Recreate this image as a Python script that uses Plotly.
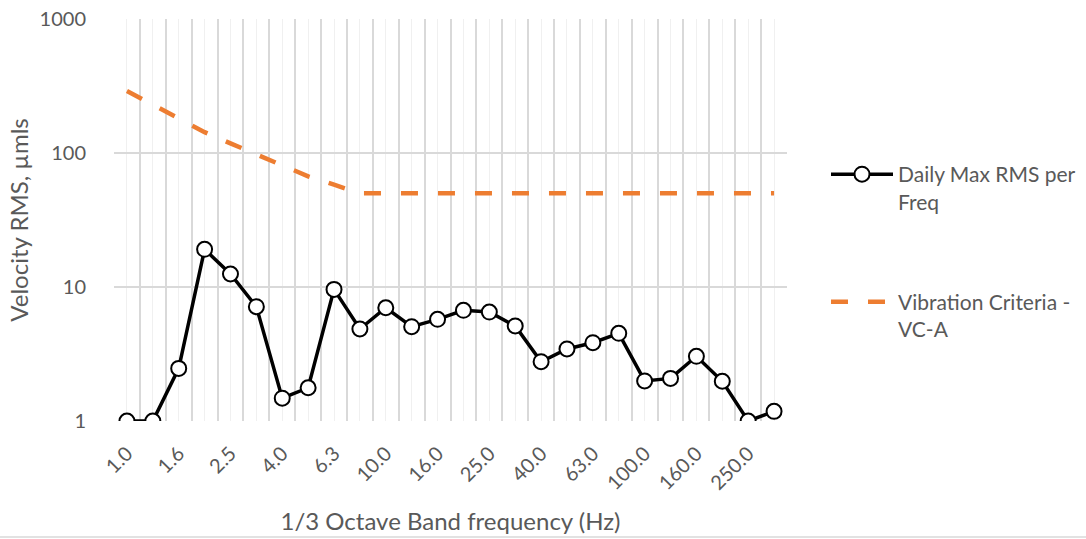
import plotly.graph_objects as go

freq_labels = ["1.0", "1.25", "1.6", "2.0", "2.5", "3.15", "4.0", "5.0", "6.3", "8.0",
               "10.0", "12.5", "16.0", "20.0", "25.0", "31.5", "40.0", "50.0", "63.0",
               "80.0", "100.0", "125.0", "160.0", "200.0", "250.0", "315.0"]
shown_tick_labels = ["1.0", "", "1.6", "", "2.5", "", "4.0", "", "6.3", "",
                     "10.0", "", "16.0", "", "25.0", "", "40.0", "", "63.0",
                     "", "100.0", "", "160.0", "", "250.0", ""]
daily_max_rms = [1.0, 1.0, 2.47, 19.1, 12.5, 7.13, 1.48, 1.77, 9.6, 4.86,
                 7.0, 5.06, 5.74, 6.7, 6.5, 5.12, 2.77, 3.45, 3.84, 4.51,
                 1.99, 2.08, 3.04, 1.98, 1.0, 1.18]
vc_a = [290, 230, 180, 143, 118, 98, 80, 67, 58, 50,
        50, 50, 50, 50, 50, 50, 50, 50, 50, 50,
        50, 50, 50, 50, 50, 50]
y_ticks = [1, 10, 100, 1000]

FONT = "Lato"
TXT = "#595959"

idx = list(range(len(freq_labels)))
boundaries = [i - 0.5 for i in range(len(freq_labels) + 1)]

W, H = 1086, 539
ML, MT, MR, MB = 114, 19, 299, 118
PW = W - ML - MR
PH = H - MT - MB

fig = go.Figure()
fig.add_trace(go.Scatter(
    x=idx, y=daily_max_rms, name="Daily Max RMS per<br>Freq",
    mode="lines+markers",
    line=dict(color="black", width=3.5),
    marker=dict(symbol="circle", size=15, color="white",
                line=dict(color="black", width=2)),
    legendgroup="a",
))
fig.add_trace(go.Scatter(
    x=idx, y=vc_a, name="Vibration Criteria -<br>VC-A",
    mode="lines", xaxis="x2",
    line=dict(color="#ED7D31", width=4.5, dash="17px,20px"),
    legendgroup="b",
))

fig.update_layout(
    width=W, height=H,
    margin=dict(l=ML, r=MR, t=MT, b=MB, autoexpand=False),
    paper_bgcolor="white", plot_bgcolor="white",
    font=dict(family=FONT, color=TXT, size=20),
    xaxis=dict(
        range=[-0.5, len(freq_labels) - 0.5],
        tickmode="array", tickvals=idx, ticktext=shown_tick_labels,
        tickangle=-45, ticks="", showgrid=True, gridcolor="#f0f0f0", gridwidth=1,
        zeroline=False, showline=False, automargin=False,
        ticklabelstandoff=16, ticklabeloverflow="allow",
        tickfont=dict(size=20, color=TXT),
        title=dict(text="1/3 Octave Band frequency (Hz)", font=dict(size=24, color=TXT), standoff=20),
    ),
    xaxis2=dict(
        overlaying="x", side="bottom",
        range=[-0.5, len(freq_labels) - 0.5],
        tickmode="array", tickvals=boundaries, showticklabels=False,
        ticks="", showgrid=True, gridcolor="#d9d9d9", gridwidth=1.5,
        zeroline=False, showline=False,
    ),
    yaxis=dict(
        type="log", range=[0, 3],
        tickmode="array", tickvals=y_ticks, ticktext=[str(v) for v in y_ticks],
        showgrid=True, gridcolor="#d9d9d9", gridwidth=1.5,
        zeroline=False, showline=False, ticks="", automargin=False,
        ticklabelstandoff=27, ticklabeloverflow="allow",
        tickfont=dict(size=20, color=TXT),
        title=dict(text="Velocity RMS, µmls", font=dict(size=24, color=TXT), standoff=4),
    ),
    legend=dict(
        x=(826 - 114) / PW, xanchor="left", y=(421 - 154) / PH, yanchor="top",
        font=dict(size=21, color=TXT), valign="top", itemwidth=62,
        tracegroupgap=70, bgcolor="rgba(0,0,0,0)",
    ),
    showlegend=True,
    shapes=[dict(type="line", xref="paper", yref="paper",
                 x0=-ML / PW, x1=(W - ML) / PW,
                 y0=-(537 - 421) / PH, y1=-(537 - 421) / PH,
                 line=dict(color="#d9d9d9", width=1.5))],
)

fig.write_html(
    "out.html",
    config={"displayModeBar": False},
    post_script="document.body.style.margin='0';document.body.style.overflow='hidden';",
)
